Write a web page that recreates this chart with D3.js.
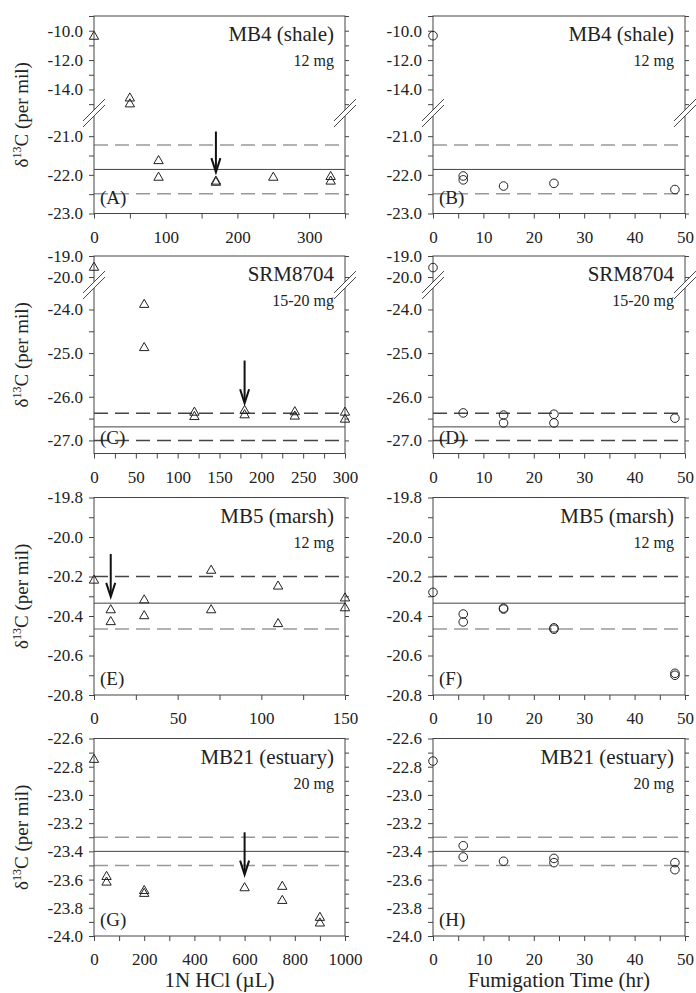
<!DOCTYPE html>
<html>
<head>
<meta charset="utf-8">
<script src="https://cdn.jsdelivr.net/npm/d3@7"></script>
<style>
  body { margin: 0; background: #fff; }
  svg, svg text { font-family: "Liberation Serif", "Times New Roman", serif; }
  svg { display: block; }
</style>
</head>
<body>
<svg id="chart" width="696" height="993"></svg>
<script>
// sample names, masses and panel letters
const sampleNames = ["MB4 (shale)", "SRM8704", "MB5 (marsh)", "MB21 (estuary)"];
const sampleMass = ["12 mg", "15-20 mg", "12 mg", "20 mg"];
const panelLetters = [["(A)", "(B)"], ["(C)", "(D)"], ["(E)", "(F)"], ["(G)", "(H)"]];

// acid rinse: 1N HCl (uL) vs d13C
const hclA_x = [0, 50, 50, 90, 90, 170, 170, 250, 330, 330];
const hclA_y = [-10.4, -14.6, -15.0, -21.64, -22.07, -22.17, -22.2, -22.07, -22.05, -22.17];
const hclC_x = [0, 60, 60, 120, 120, 180, 180, 240, 240, 300, 300];
const hclC_y = [-19.55, -23.89, -24.88, -26.36, -26.46, -26.32, -26.42, -26.35, -26.45, -26.36, -26.52];
const hclE_x = [0, 10, 10, 30, 30, 70, 70, 110, 110, 150, 150];
const hclE_y = [-20.22, -20.37, -20.43, -20.32, -20.40, -20.17, -20.37, -20.25, -20.44, -20.31, -20.36];
const hclG_x = [0, 50, 50, 200, 200, 600, 750, 750, 900, 900];
const hclG_y = [-22.75, -23.58, -23.62, -23.68, -23.70, -23.66, -23.65, -23.75, -23.87, -23.91];

// acid fumigation: time (hr) vs d13C
const fumB_x = [0, 6, 6, 14, 24, 48];
const fumB_y = [-10.34, -22.03, -22.13, -22.29, -22.22, -22.38];
const fumD_x = [0, 6, 14, 14, 24, 24, 48];
const fumD_y = [-19.55, -26.37, -26.42, -26.6, -26.40, -26.6, -26.49];
const fumF_x = [0, 6, 6, 14, 14, 24, 24, 48, 48];
const fumF_y = [-20.28, -20.39, -20.43, -20.36, -20.365, -20.46, -20.467, -20.69, -20.70];
const fumH_x = [0, 6, 6, 14, 24, 24, 48, 48];
const fumH_y = [-22.76, -23.36, -23.44, -23.47, -23.45, -23.48, -23.48, -23.53];

// accepted value (solid) and its range (dashed)
const refMean = [-21.86, -26.69, -20.335, -23.40];
const refHigh = [-21.23, -26.38, -20.20, -23.30];
const refLow = [-22.49, -27.00, -20.466, -23.50];

// arrows marking the chosen acid amount
const arrowX = [170, 180, 10, 600];
const arrowFrom = [-20.88, -25.17, -20.086, -23.265];
const arrowTo = [-21.93, -26.15, -20.303, -23.565];

// tick values
const yTicksA = [-10, -12, -14, -21, -22, -23];
const yMinorA = [-9, -11, -13, -15, -21.5, -22.5];
const yTicksC = [-19, -20, -24, -25, -26, -27];
const yMinorC = [-24.5, -25.5, -26.5];
const yTicksE = [-19.8, -20.0, -20.2, -20.4, -20.6, -20.8];
const yMinorE = [-19.9, -20.1, -20.3, -20.5, -20.7];
const yTicksG = [-22.6, -22.8, -23.0, -23.2, -23.4, -23.6, -23.8, -24.0];
const yMinorG = [-22.7, -22.9, -23.1, -23.3, -23.5, -23.7, -23.9];

const xTicksA = [0, 100, 200, 300];
const xMinorA = [50, 150, 250, 350];
const xTicksC = [0, 50, 100, 150, 200, 250, 300];
const xMinorC = [25, 75, 125, 175, 225, 275];
const xTicksE = [0, 50, 100, 150];
const xMinorE = [25, 75, 125];
const xTicksG = [0, 200, 400, 600, 800, 1000];
const xMinorG = [100, 300, 500, 700, 900];
const timeTicks = [0, 10, 20, 30, 40, 50];
const timeMinor = [5, 15, 25, 35, 45];

// layout
const colX = [[94, 345], [433, 685]];
const rowTop = [16, 256, 497.5, 738.5];
const ph = 197.5;
const rowCfg = [
  { dom: [-23, -20.4, -15.6, -9], frac: [1, 0.491, 0.491, 0], brk: 0.491, yt: yTicksA, ym: yMinorA },
  { dom: [-27.3, -23.44, -20.38, -19], frac: [1, 0.147, 0.147, 0], brk: 0.147, yt: yTicksC, ym: yMinorC },
  { dom: [-20.8, -19.8], frac: [1, 0], brk: null, yt: yTicksE, ym: yMinorE },
  { dom: [-24.0, -22.6], frac: [1, 0], brk: null, yt: yTicksG, ym: yMinorG }
];
// dash colours [high, low]
const dashColors = [["#999", "#999"], ["#444", "#444"], ["#444", "#999"], ["#999", "#999"]];

const panels = [
  { row: 0, col: 0, xDom: [0, 350], xt: xTicksA, xm: xMinorA, px: hclA_x, py: hclA_y, tri: true },
  { row: 0, col: 1, xDom: [0, 50], xt: timeTicks, xm: timeMinor, px: fumB_x, py: fumB_y, tri: false },
  { row: 1, col: 0, xDom: [0, 300], xt: xTicksC, xm: xMinorC, px: hclC_x, py: hclC_y, tri: true },
  { row: 1, col: 1, xDom: [0, 50], xt: timeTicks, xm: timeMinor, px: fumD_x, py: fumD_y, tri: false },
  { row: 2, col: 0, xDom: [0, 150], xt: xTicksE, xm: xMinorE, px: hclE_x, py: hclE_y, tri: true },
  { row: 2, col: 1, xDom: [0, 50], xt: timeTicks, xm: timeMinor, px: fumF_x, py: fumF_y, tri: false },
  { row: 3, col: 0, xDom: [0, 1000], xt: xTicksG, xm: xMinorG, px: hclG_x, py: hclG_y, tri: true },
  { row: 3, col: 1, xDom: [0, 50], xt: timeTicks, xm: timeMinor, px: fumH_x, py: fumH_y, tri: false }
];

const svg = d3.select("#chart");
const axisColor = "#444";
const serif = "Liberation Serif, Times New Roman, serif";

function styleAxis(sel, size) {
  sel.attr("font-family", serif).attr("font-size", size).attr("color", axisColor);
  sel.selectAll("text").attr("fill", "#222");
  sel.select(".domain").remove();
}

function drawPanel(p) {
  const [x0, x1] = colX[p.col];
  const w = x1 - x0;
  const rc = rowCfg[p.row];
  const g = svg.append("g").attr("transform", `translate(${x0},${rowTop[p.row]})`);

  const x = d3.scaleLinear().domain(p.xDom).range([0, w]);
  const y = d3.scaleLinear().domain(rc.dom).range(rc.frac.map(f => f * ph));
  const fmt = d => d.toFixed(1);

  // reference lines
  const dc = dashColors[p.row];
  g.append("line").attr("x1", 0).attr("x2", w)
    .attr("y1", y(refHigh[p.row])).attr("y2", y(refHigh[p.row]))
    .attr("stroke", dc[0]).attr("stroke-width", 1.5).attr("stroke-dasharray", "14,7");
  g.append("line").attr("x1", 0).attr("x2", w)
    .attr("y1", y(refLow[p.row])).attr("y2", y(refLow[p.row]))
    .attr("stroke", dc[1]).attr("stroke-width", 1.5).attr("stroke-dasharray", "14,7");
  g.append("line").attr("x1", 0).attr("x2", w)
    .attr("y1", y(refMean[p.row])).attr("y2", y(refMean[p.row]))
    .attr("stroke", "#444").attr("stroke-width", 1);

  // axes
  g.append("g").call(d3.axisLeft(y).tickValues(rc.yt).tickSize(5).tickPadding(6).tickFormat(fmt))
    .call(s => styleAxis(s, 17));
  g.append("g").call(d3.axisLeft(y).tickValues(rc.ym).tickSize(5).tickFormat(""))
    .call(s => styleAxis(s, 17));
  g.append("g").attr("transform", `translate(${w},0)`)
    .call(d3.axisRight(y).tickValues(rc.yt.concat(rc.ym)).tickSize(4).tickFormat(""))
    .call(s => styleAxis(s, 17));
  g.append("g").attr("transform", `translate(0,${ph})`)
    .call(d3.axisBottom(x).tickValues(p.xt).tickSize(5).tickPadding(12).tickFormat(d3.format("d")))
    .call(s => styleAxis(s, 17));
  g.append("g").attr("transform", `translate(0,${ph})`)
    .call(d3.axisBottom(x).tickValues(p.xm).tickSize(5).tickFormat(""))
    .call(s => styleAxis(s, 17));

  // frame
  g.append("rect").attr("width", w).attr("height", ph)
    .attr("fill", "none").attr("stroke", axisColor).attr("stroke-width", 1);

  // axis break marks
  if (rc.brk !== null) {
    const by = rc.brk * ph;
    [0, w].forEach(bx => {
      g.append("path")
        .attr("d", `M${bx - 11},${by + 8}L${bx + 11},${by - 14}L${bx + 11},${by - 8}L${bx - 11},${by + 14}Z`)
        .attr("fill", "#fff");
      [-3, 3].forEach(k => {
        g.append("line")
          .attr("x1", bx - 11).attr("y1", by + 11 + k)
          .attr("x2", bx + 11).attr("y2", by - 11 + k)
          .attr("stroke", axisColor).attr("stroke-width", 1);
      });
    });
  }

  // points
  const pts = p.px.map((v, i) => [v, p.py[i]]);
  if (p.tri) {
    g.selectAll(".pt").data(pts).join("path")
      .attr("transform", d => `translate(${x(d[0])},${y(d[1])})`)
      .attr("d", d3.symbol(d3.symbolTriangle, 38))
      .attr("fill", "none").attr("stroke", "#222").attr("stroke-width", 1);
  } else {
    g.selectAll(".pt").data(pts).join("circle")
      .attr("cx", d => x(d[0])).attr("cy", d => y(d[1])).attr("r", 4.3)
      .attr("fill", "none").attr("stroke", "#222").attr("stroke-width", 1);
  }

  // arrow (acid rinse panels only)
  if (p.col === 0) {
    const ax = x(arrowX[p.row]);
    const ay0 = y(arrowFrom[p.row]);
    const ay1 = y(arrowTo[p.row]);
    g.append("line").attr("x1", ax).attr("x2", ax).attr("y1", ay0).attr("y2", ay1 - 2)
      .attr("stroke", "#111").attr("stroke-width", 2);
    g.append("path")
      .attr("d", `M${ax - 4.5},${ay1 - 14}L${ax},${ay1}L${ax + 4.5},${ay1 - 14}`)
      .attr("fill", "none").attr("stroke", "#111").attr("stroke-width", 2);
  }

  // labels
  g.append("text").attr("x", w - 11).attr("y", 25).attr("text-anchor", "end")
    .attr("font-family", serif).attr("font-size", 21).attr("fill", "#222").text(sampleNames[p.row]);
  g.append("text").attr("x", w - 11).attr("y", 50).attr("text-anchor", "end")
    .attr("font-family", serif).attr("font-size", 16).attr("fill", "#222").text(sampleMass[p.row]);
  g.append("text").attr("x", 6).attr("y", ph - 10)
    .attr("font-family", serif).attr("font-size", 19).attr("fill", "#222").text(panelLetters[p.row][p.col]);

  // y axis title on the left column
  if (p.col === 0) {
    const t = svg.append("text")
      .attr("transform", `translate(28,${rowTop[p.row] + ph / 2}) rotate(-90)`)
      .attr("text-anchor", "middle").attr("font-family", serif)
      .attr("font-size", 19).attr("fill", "#222");
    t.append("tspan").text("\u03B4");
    t.append("tspan").attr("font-size", 12).attr("dy", -7).text("13");
    t.append("tspan").attr("dy", 7).text("C (per mil)");
  }
}

panels.forEach(drawPanel);

// x axis titles
svg.append("text").attr("x", (colX[0][0] + colX[0][1]) / 2).attr("y", 987)
  .attr("text-anchor", "middle").attr("font-family", serif).attr("font-size", 21)
  .attr("fill", "#222").text("1N HCl (\u00B5L)");
svg.append("text").attr("x", (colX[1][0] + colX[1][1]) / 2).attr("y", 987)
  .attr("text-anchor", "middle").attr("font-family", serif).attr("font-size", 21)
  .attr("fill", "#222").text("Fumigation Time (hr)");
</script>
</body>
</html>
